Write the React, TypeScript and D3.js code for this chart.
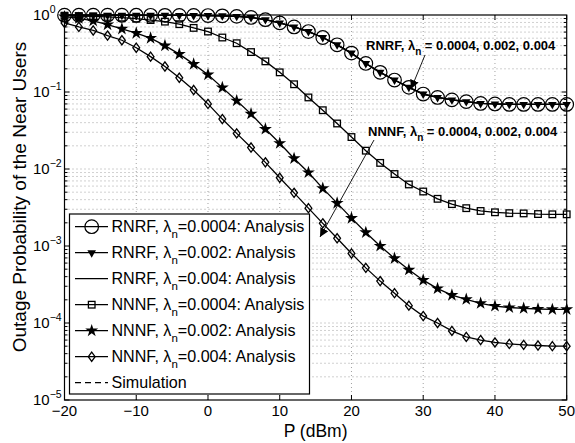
import React, { useEffect, useRef } from 'react';
import * as d3 from 'd3';

// transmit power (dBm)
const powerDbm = [-20, -18, -16, -14, -12, -10, -8, -6, -4, -2, 0, 2, 4, 6, 8, 10, 12, 14, 16, 18, 20, 22, 24, 26, 28, 30, 32, 34, 36, 38, 40, 42, 44, 46, 48, 50];

// RNRF: the three densities give the same curve
const rnrf = [0.995, 0.995, 0.994, 0.994, 0.993, 0.992, 0.991, 0.99, 0.988, 0.986, 0.984, 0.975, 0.96, 0.93, 0.87, 0.79, 0.70, 0.61, 0.51, 0.41, 0.32, 0.235, 0.18, 0.143, 0.115, 0.094, 0.085, 0.079, 0.075, 0.071, 0.070, 0.069, 0.069, 0.069, 0.069, 0.069];
const nnnf0004 = [0.98, 0.97, 0.96, 0.945, 0.925, 0.895, 0.86, 0.82, 0.76, 0.68, 0.61, 0.51, 0.43, 0.33, 0.25, 0.18, 0.126, 0.085, 0.058, 0.039, 0.026, 0.0173, 0.012, 0.0086, 0.0063, 0.0051, 0.0041, 0.0035, 0.0031, 0.00285, 0.00274, 0.00267, 0.00265, 0.0026, 0.00258, 0.00258];
const nnnf002 = [0.95, 0.905, 0.84, 0.75, 0.66, 0.58, 0.50, 0.40, 0.31, 0.23, 0.168, 0.114, 0.077, 0.052, 0.033, 0.0216, 0.0137, 0.009, 0.0056, 0.0036, 0.0023, 0.0015, 0.001, 0.00069, 0.00049, 0.00036, 0.00028, 0.00023, 0.000203, 0.00018, 0.000166, 0.000159, 0.000155, 0.000152, 0.00015, 0.00015];
const nnnf004 = [0.79, 0.70, 0.63, 0.54, 0.47, 0.376, 0.288, 0.214, 0.153, 0.106, 0.070, 0.0445, 0.029, 0.019, 0.0122, 0.0077, 0.0049, 0.0031, 0.00197, 0.00126, 0.0008, 0.00052, 0.00035, 0.000244, 0.000168, 0.000123, 0.0001, 0.000079, 0.000066, 0.00006, 0.000056, 0.0000535, 0.000052, 0.000051, 0.00005, 0.00005];

const xTicks = [-20, -10, 0, 10, 20, 30, 40, 50];
const yExponents = [0, -1, -2, -3, -4, -5];

const legendItems = [
  { scheme: 'RNRF', lam: '0.0004', marker: 'circle' },
  { scheme: 'RNRF', lam: '0.002', marker: 'triangle' },
  { scheme: 'RNRF', lam: '0.004', marker: 'none' },
  { scheme: 'NNNF', lam: '0.0004', marker: 'square' },
  { scheme: 'NNNF', lam: '0.002', marker: 'star' },
  { scheme: 'NNNF', lam: '0.004', marker: 'diamond' },
];

const FONT = 'Liberation Sans, Arial, Helvetica, sans-serif';

const App = () => {
  const svgRef = useRef(null);

  useEffect(() => {
    const svg = d3.select(svgRef.current);
    svg.selectAll('*').remove();

    const left = 64.5, right = 566.7, top = 15, bottom = 400;
    const x = d3.scaleLinear().domain([-20, 50]).range([left, right]);
    const y = d3.scaleLog().domain([1e-5, 1]).range([bottom, top]);

    svg.append('rect').attr('width', 575).attr('height', 443).attr('fill', '#fff');

    // grid
    const grid = svg.append('g').attr('stroke', '#8a8a8a').attr('stroke-width', 0.8).attr('stroke-dasharray', '1,3');
    xTicks.slice(1, -1).forEach(t => {
      grid.append('line').attr('x1', x(t)).attr('x2', x(t)).attr('y1', top).attr('y2', bottom);
    });
    for (let e = -5; e < 0; e++) {
      for (let m = 1; m < 10; m++) {
        const v = m * Math.pow(10, e);
        if (m === 1 && e === -5) continue;
        grid.append('line').attr('x1', left).attr('x2', right).attr('y1', y(v)).attr('y2', y(v));
      }
    }

    // ticks
    const ticks = svg.append('g').attr('stroke', '#000').attr('stroke-width', 1);
    xTicks.forEach(t => {
      ticks.append('line').attr('x1', x(t)).attr('x2', x(t)).attr('y1', bottom).attr('y2', bottom - 5);
      ticks.append('line').attr('x1', x(t)).attr('x2', x(t)).attr('y1', top).attr('y2', top + 5);
    });
    for (let e = -5; e < 0; e++) {
      for (let m = 1; m < 10; m++) {
        const v = m * Math.pow(10, e);
        const len = m === 1 ? 5 : 3;
        ticks.append('line').attr('x1', left).attr('x2', left + len).attr('y1', y(v)).attr('y2', y(v));
        ticks.append('line').attr('x1', right).attr('x2', right - len).attr('y1', y(v)).attr('y2', y(v));
      }
    }

    // tick labels
    xTicks.forEach(t => {
      svg.append('text').attr('x', x(t)).attr('y', 416).attr('text-anchor', 'middle')
        .style('font-family', FONT).style('font-size', '15px')
        .text(t < 0 ? '\u2212' + Math.abs(t) : String(t));
    });
    yExponents.forEach(e => {
      const ty = y(Math.pow(10, e));
      const t = svg.append('text').attr('x', 33).attr('y', ty + 5)
        .style('font-family', FONT).style('font-size', '15px');
      t.append('tspan').text('10');
      t.append('tspan').attr('dy', -7).style('font-size', '10.5px').text(e < 0 ? '\u2212' + Math.abs(e) : String(e));
    });

    // axis labels
    svg.append('text').attr('x', x(15)).attr('y', 437).attr('text-anchor', 'middle')
      .style('font-family', FONT).style('font-size', '17.5px').text('P (dBm)');
    svg.append('text').attr('transform', 'translate(25.5,197) rotate(-90)').attr('text-anchor', 'middle')
      .style('font-family', FONT).style('font-size', '19px').text('Outage Probability of the Near Users');

    const line = d3.line().x(d => x(d[0])).y(d => y(d[1]));
    const pairs = (arr) => powerDbm.map((p, i) => [p, arr[i]]);

    const drawMarker = (g, kind, cx, cy) => {
      if (kind === 'circle') {
        g.append('circle').attr('cx', cx).attr('cy', cy).attr('r', 6.8).attr('fill', 'none').attr('stroke', '#000').attr('stroke-width', 1.2);
      } else if (kind === 'triangle') {
        g.append('path').attr('d', d3.symbol(d3.symbolTriangle, 32)()).attr('transform', `translate(${cx},${cy}) rotate(180)`).attr('fill', '#000');
      } else if (kind === 'square') {
        g.append('rect').attr('x', cx - 3.3).attr('y', cy - 3.3).attr('width', 6.6).attr('height', 6.6).attr('fill', 'none').attr('stroke', '#000').attr('stroke-width', 1.3);
      } else if (kind === 'star') {
        g.append('path').attr('d', d3.symbol(d3.symbolStar, 52)()).attr('transform', `translate(${cx},${cy})`).attr('fill', '#000');
      } else if (kind === 'diamond') {
        g.append('path').attr('d', `M${cx},${cy - 4.6}L${cx + 3.4},${cy}L${cx},${cy + 4.6}L${cx - 3.4},${cy}Z`).attr('fill', 'none').attr('stroke', '#000').attr('stroke-width', 1.3);
      }
    };

    const series = [
      { data: rnrf, marker: 'circle' },
      { data: rnrf, marker: 'triangle' },
      { data: rnrf, marker: 'none' },
      { data: nnnf0004, marker: 'square' },
      { data: nnnf002, marker: 'star' },
      { data: nnnf004, marker: 'diamond' },
    ];
    const plot = svg.append('g');
    series.forEach(s => {
      plot.append('path').datum(pairs(s.data)).attr('d', line).attr('fill', 'none').attr('stroke', '#000').attr('stroke-width', 1.3);
      pairs(s.data).forEach(d => drawMarker(plot, s.marker, x(d[0]), y(d[1])));
    });

    // annotations
    const ann = (tx, ty, scheme) => {
      const t = svg.append('text').attr('x', tx).attr('y', ty)
        .style('font-family', FONT).style('font-size', '13px').style('font-weight', 'bold');
      t.append('tspan').text(scheme + ', \u03bb');
      t.append('tspan').attr('dy', 5).style('font-size', '10px').text('n');
      t.append('tspan').attr('dy', -5).text(' = 0.0004, 0.002, 0.004');
    };
    ann(366, 50, 'RNRF');
    ann(368, 136, 'NNNF');

    const defs = svg.append('defs');
    defs.append('marker').attr('id', 'ah').attr('viewBox', '0 0 10 10').attr('refX', 10).attr('refY', 5)
      .attr('markerWidth', 9).attr('markerHeight', 9).attr('orient', 'auto-start-reverse').attr('markerUnits', 'userSpaceOnUse')
      .append('path').attr('d', 'M0,0L10,5L0,10Z').attr('fill', '#000');
    svg.append('line').attr('x1', 425).attr('y1', 55).attr('x2', 411).attr('y2', 89)
      .attr('stroke', '#000').attr('stroke-width', 0.9).attr('marker-end', 'url(#ah)');
    svg.append('line').attr('x1', 374).attr('y1', 140).attr('x2', 320).attr('y2', 237)
      .attr('stroke', '#000').attr('stroke-width', 0.9).attr('marker-end', 'url(#ah)');

    // frame
    svg.append('rect').attr('x', left).attr('y', top).attr('width', right - left).attr('height', bottom - top)
      .attr('fill', 'none').attr('stroke', '#000').attr('stroke-width', 1.2);

    // legend
    const lg = svg.append('g');
    lg.append('rect').attr('x', 69.5).attr('y', 214).attr('width', 240).attr('height', 180)
      .attr('fill', '#fff').attr('stroke', '#000').attr('stroke-width', 1.2);
    const rowY = i => 226.7 + i * 26;
    legendItems.forEach((it, i) => {
      const ry = rowY(i);
      lg.append('line').attr('x1', 75).attr('x2', 108).attr('y1', ry).attr('y2', ry).attr('stroke', '#000').attr('stroke-width', 1.3);
      drawMarker(lg, it.marker, 91.7, ry);
      const t = lg.append('text').attr('x', 111.5).attr('y', ry + 5.5)
        .style('font-family', FONT).style('font-size', '16.1px');
      t.append('tspan').text(it.scheme + ', \u03bb');
      t.append('tspan').attr('dy', 6).style('font-size', '11.5px').text('n');
      t.append('tspan').attr('dy', -6).text('=' + it.lam + ': Analysis');
    });
    const sy = rowY(6);
    lg.append('line').attr('x1', 75).attr('x2', 108).attr('y1', sy).attr('y2', sy).attr('stroke', '#000').attr('stroke-width', 1.3).attr('stroke-dasharray', '6,4');
    lg.append('text').attr('x', 111.5).attr('y', sy + 5.5).style('font-family', FONT).style('font-size', '16.1px').text('Simulation');
  }, []);

  return (
    <svg ref={svgRef} width={575} height={443} style={{ position: 'absolute', left: 0, top: 0 }}></svg>
  );
};

export default App;
